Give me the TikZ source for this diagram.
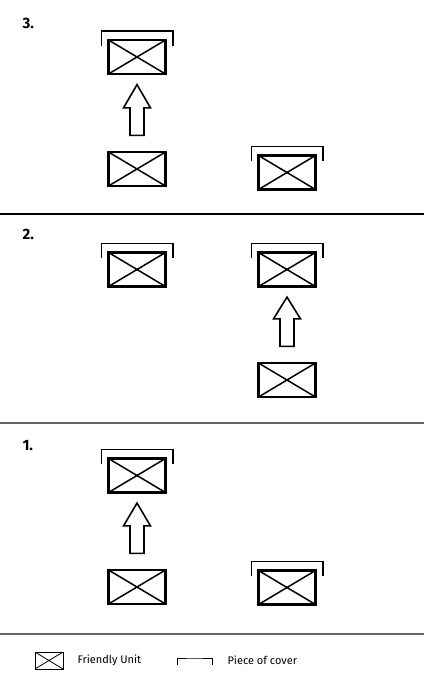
\documentclass[tikz,border=0pt]{standalone}
\usepackage{fontspec}
\setmainfont{Fira Sans}
\usetikzlibrary{positioning,calc}

% bracket of a piece of cover above a unit
\newcommand{\coverof}[1]{%
  \draw[line width=1.8pt] ([xshift=-6pt,yshift=-7pt]#1.north west) |- ([yshift=8pt]#1.north)
    -| ([xshift=6pt,yshift=-7pt]#1.north east);}
% hollow arrow from one unit up to another
\newcommand{\moveup}[2]{%
  \draw[line width=1.6pt] ([xshift=-7pt,yshift=15.5pt]#1.north) -- ([xshift=-7pt,yshift=43pt]#1.north)
    -- ([xshift=-13.5pt,yshift=43pt]#1.north) -- ([yshift=-9.5pt]#2.south)
    -- ([xshift=13.5pt,yshift=43pt]#1.north) -- ([xshift=7pt,yshift=43pt]#1.north)
    -- ([xshift=7pt,yshift=15.5pt]#1.north) -- cycle;}

\begin{document}
\begin{tikzpicture}[x=1pt,y=-1pt,every node/.style={font=\small}]
\tikzset{unit/.style={draw,line width=2.2pt,minimum width=57pt,minimum height=34pt,inner sep=0pt,
    path picture={\draw[line width=1.5pt] (path picture bounding box.north west) -- (path picture bounding box.south east)
      (path picture bounding box.south west) -- (path picture bounding box.north east);}},
  step label/.style={font=\bfseries\fontsize{15}{17}\selectfont,anchor=west},
  key text/.style={anchor=west,font=\fontsize{11}{13}\selectfont},
  divider/.style={line width=1.2pt}}
\useasboundingbox (0,0) rectangle (424,689);

% stage 3
\node[step label] (lab3) at (19,23) {3.};
\node[unit] (a3top) at (137,57) {};
\node[unit] (a3bot) at (137,169) {};
\node[unit] (b3) at (287,172.5) {};
\coverof{a3top}
\coverof{b3}
\moveup{a3bot}{a3top}
\draw[divider] (0,214) -- (424,214);

% stage 2
\node[step label] (lab2) at (19,234) {2.};
\node[unit] (a2) at (137,269.5) {};
\node[unit] (b2top) at (287,269.5) {};
\node[unit] (b2bot) at (287,380) {};
\coverof{a2}
\coverof{b2top}
\moveup{b2bot}{b2top}
\draw[divider,black!60] (0,423) -- (424,423);

% stage 1
\node[step label] (lab1) at (19,446) {1.};
\node[unit] (a1top) at (137,475.5) {};
\node[unit] (a1bot) at (137,587) {};
\node[unit] (b1) at (287,587.5) {};
\coverof{a1top}
\coverof{b1}
\moveup{a1bot}{a1top}
\draw[divider,black!60] (0,634) -- (424,634);

% key
\node[unit,line width=1pt,minimum width=28pt,minimum height=17pt,
  path picture={\draw[line width=0.8pt] (path picture bounding box.north west) -- (path picture bounding box.south east)
    (path picture bounding box.south west) -- (path picture bounding box.north east);}] (keyunit) at (49,660.5) {};
\node[key text] (keyunittxt) at (74,660.5) {Friendly Unit};
\coordinate (keycover) at (194.5,658);
\draw[line width=0.8pt] ([xshift=-17.5pt,yshift=-7pt]keycover) |- (keycover) -| ([xshift=17.5pt,yshift=-7pt]keycover);
\node[key text] (keycovertxt) at (224,660.5) {Piece of cover};
\end{tikzpicture}
\end{document}
